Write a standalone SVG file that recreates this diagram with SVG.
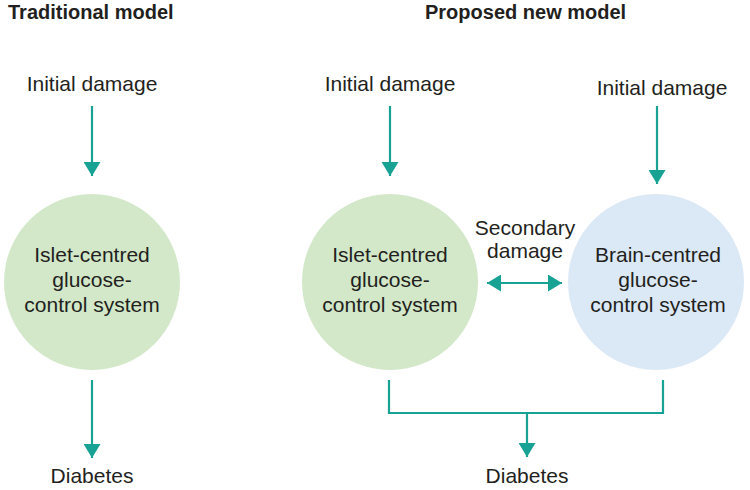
<svg xmlns="http://www.w3.org/2000/svg" width="750" height="490" viewBox="0 0 750 490">
<defs>
<marker id="ah" viewBox="0 0 14 17" refX="14" refY="8.5" markerWidth="14" markerHeight="17" markerUnits="userSpaceOnUse" orient="auto-start-reverse">
<path d="M0,0 L14,8.5 L0,17 Z" fill="#17a293"/>
</marker>
<style>
text{font-family:"Liberation Sans",Arial,sans-serif;fill:#231f20;font-size:21px;text-anchor:middle}
.title{font-weight:bold;font-size:20px;text-anchor:start}
.c{stroke:#17a293;stroke-width:2.2;fill:none}
.a{marker-end:url(#ah)}
</style>
</defs>
<rect width="750" height="490" fill="#fff"/>
<text class="title" x="8" y="19">Traditional model</text>
<text class="title" x="425" y="19">Proposed new model</text>
<g id="init1"><text x="92" y="91">Initial damage</text></g>
<g id="init2"><text x="390" y="91">Initial damage</text></g>
<g id="init3"><text x="662" y="95">Initial damage</text></g>
<g id="islet1">
<circle cx="92" cy="282" r="88" fill="#d2e8c9"/>
<text x="92" y="262">Islet-centred</text>
<text x="92" y="287">glucose-</text>
<text x="92" y="312">control system</text>
</g>
<g id="islet2">
<circle cx="390" cy="282" r="88" fill="#d2e8c9"/>
<text x="390" y="262">Islet-centred</text>
<text x="390" y="287">glucose-</text>
<text x="390" y="312">control system</text>
</g>
<g id="brain">
<circle cx="656" cy="282" r="88" fill="#dbe8f6"/>
<text x="658" y="262">Brain-centred</text>
<text x="658" y="287">glucose-</text>
<text x="658" y="312">control system</text>
</g>
<g id="secondary">
<text x="525" y="235">Secondary</text>
<text x="525" y="258">damage</text>
</g>
<g id="diab1"><text x="92" y="483">Diabetes</text></g>
<g id="diab2"><text x="527" y="483">Diabetes</text></g>
<g id="connectors">
<line class="c a" x1="92" y1="106" x2="92" y2="176"/>
<line class="c a" x1="390" y1="106" x2="390" y2="176"/>
<line class="c a" x1="657" y1="106" x2="657" y2="184"/>
<line class="c a" x1="92" y1="380" x2="92" y2="458"/>
<line class="c a" x1="487" y1="283" x2="562" y2="283" style="marker-start:url(#ah)"/>
<path class="c" d="M389,380 V413 H663 V380"/>
<line class="c a" x1="527" y1="413" x2="527" y2="457"/>
</g>
</svg>
